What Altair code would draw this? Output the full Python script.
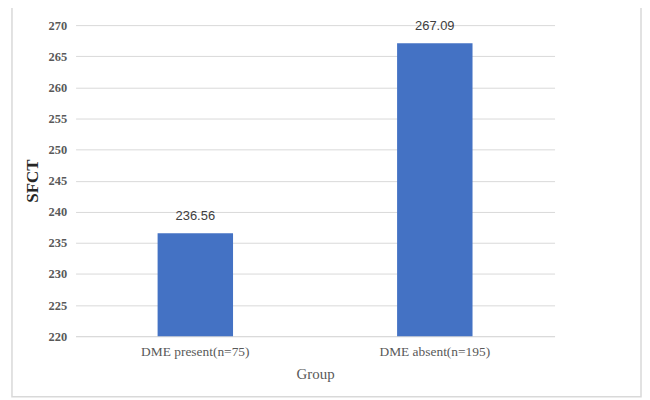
import altair as alt
import pandas as pd

groups = ["DME present(n=75)", "DME absent(n=195)"]
sfct = [236.56, 267.09]
labels = ["236.56", "267.09"]
tick_values = [220, 225, 230, 235, 240, 245, 250, 255, 260, 265, 270]
baseline = 220

df = pd.DataFrame({"Group": groups, "SFCT": sfct, "label": labels})

x = alt.X("Group:N", sort=groups, title="Group",
          scale=alt.Scale(paddingInner=0, paddingOuter=0),
          axis=alt.Axis(labelAngle=0, labelFont="Liberation Serif", labelFontSize=13.5,
                        labelColor="#595959", labelPadding=8, ticks=False,
                        domainColor="#d9d9d9", titleFont="Liberation Serif",
                        titleFontSize=15, titleFontWeight="normal", titleColor="#595959",
                        titlePadding=9))
y = alt.Y("SFCT:Q", title="SFCT",
          scale=alt.Scale(domain=[220, 270], nice=False, zero=False),
          axis=alt.Axis(values=tick_values, tickCount=11, labelOverlap=False,
                        labelFont="Liberation Serif",
                        labelFontSize=12.5, labelFontWeight="bold", labelColor="#595959",
                        labelPadding=9, ticks=False, domain=False, gridColor="#d9d9d9",
                        titleFont="Liberation Serif", titleFontSize=17,
                        titleFontWeight="bold", titleColor="#262626", titlePadding=7))

bars = alt.Chart(df).mark_bar(color="#4472C4", width=alt.RelativeBandSize(0.315)).encode(
    x=x, y=y, y2=alt.datum(baseline))
text = alt.Chart(df).mark_text(dy=-10, baseline="bottom", font="Liberation Sans",
                               fontSize=13, color="#404040").encode(
    x=x, y=y, text="label:N")

frame = alt.Chart(pd.DataFrame({"a": [0]})).mark_rect(
    fill=None, stroke="#d9d9d9", strokeWidth=1.5, clip=False
).encode(x=alt.value(-64), x2=alt.value(569), y=alt.value(-18), y2=alt.value(374))

chart = alt.layer(bars, text, frame).properties(
    width=482, height=313,
    autosize=alt.AutoSizeParams(type="none"),
    padding={"left": 68, "top": 16, "right": 88, "bottom": 62},
).configure_view(stroke=None)

chart.save("out.html", embed_options={"renderer": "svg", "actions": False})
